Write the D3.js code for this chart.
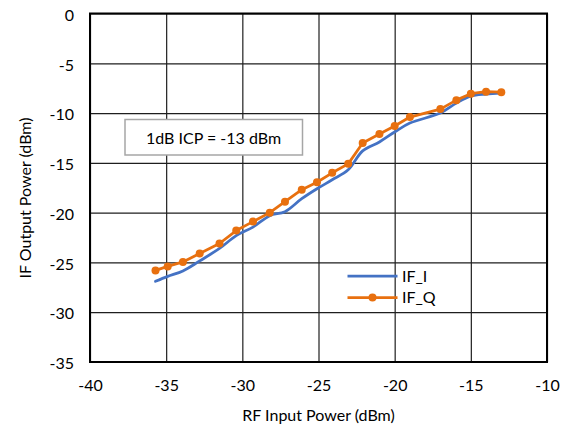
<!DOCTYPE html>
<html>
<head>
<meta charset="utf-8">
<script src="https://cdn.jsdelivr.net/npm/d3@7"></script>
<style>
  html, body { margin: 0; padding: 0; background: #fff; }
  svg { display: block; font-family: Lato, "Liberation Sans", Arial, sans-serif; }
</style>
</head>
<body>
<svg id="chart" width="565" height="426"></svg>
<script>
// RF input power sweep (dBm)
const inputPower = [-35.7, -34.9, -33.9, -32.8, -31.5, -30.4, -29.3, -28.2, -27.2, -26.1, -25.1,
                    -24.1, -23.05, -22.1, -21.0, -20.0, -19.0, -17.0, -15.95, -15.0, -14.0, -13.0];
// IF output power, I channel (dBm)
const ifI = [-26.9, -26.4, -25.85, -24.85, -23.6, -22.3, -21.45, -20.3, -19.9, -18.6, -17.6,
             -16.7, -15.7, -13.8, -12.9, -11.9, -11.0, -10.0, -9.0, -8.3, -8.1, -8.0];
// IF output power, Q channel (dBm)
const ifQ = [-25.8, -25.4, -24.95, -24.1, -23.1, -21.8, -20.9, -20.0, -18.9, -17.7, -16.95,
             -16.0, -15.1, -13.0, -12.1, -11.3, -10.4, -9.6, -8.7, -8.05, -7.85, -7.9];

const xTicks = [-40, -35, -30, -25, -20, -15, -10];
const yTicks = [0, -5, -10, -15, -20, -25, -30, -35];
const seriesNames = ["IF_I", "IF_Q"];
const icpLabel = "1dB ICP = -13 dBm";

const colorI = "#4472C4";
const colorQ = "#E8700F";
const fontSize = 16;
const fontFamily = "Lato, Liberation Sans, Arial, sans-serif";
const tickFmt = d => String(d);   // plain hyphen-minus

const plot = { left: 90, right: 547, top: 13.5, bottom: 362 };
const svg = d3.select("#chart");
svg.append("rect").attr("width", 565).attr("height", 426).attr("fill", "#fff");

const x = d3.scaleLinear().domain([-40, -10]).range([plot.left, plot.right]);
const y = d3.scaleLinear().domain([-35, 0]).range([plot.bottom, plot.top]);

// gridlines
const grid = svg.append("g");
grid.append("g")
  .attr("transform", `translate(0,${plot.bottom})`)
  .call(d3.axisBottom(x).tickValues(xTicks).tickSize(-(plot.bottom - plot.top)).tickFormat(""))
  .call(g => g.select(".domain").remove())
  .call(g => g.selectAll("line").attr("stroke", "#1e1e1e").attr("stroke-width", 1.2));
grid.append("g")
  .attr("transform", `translate(${plot.left},0)`)
  .call(d3.axisLeft(y).tickValues(yTicks).tickSize(-(plot.right - plot.left)).tickFormat(""))
  .call(g => g.select(".domain").remove())
  .call(g => g.selectAll("line").attr("stroke", "#1e1e1e").attr("stroke-width", 1.2));

// tick labels
svg.append("g")
  .attr("transform", `translate(0,${plot.bottom})`)
  .call(d3.axisBottom(x).tickValues(xTicks).tickSize(0).tickPadding(17.6).tickFormat(tickFmt))
  .call(g => g.select(".domain").remove())
  .call(g => g.selectAll("text").attr("font-size", fontSize).attr("fill", "#000")
    .attr("font-family", fontFamily));
svg.append("g")
  .attr("transform", `translate(${plot.left},0)`)
  .call(d3.axisLeft(y).tickValues(yTicks).tickSize(0).tickPadding(16).tickFormat(tickFmt))
  .call(g => g.select(".domain").remove())
  .call(g => g.selectAll("text").attr("font-size", fontSize).attr("fill", "#000").attr("dy", "0.42em")
    .attr("font-family", fontFamily));

// plot frame
svg.append("rect")
  .attr("x", plot.left).attr("y", plot.top)
  .attr("width", plot.right - plot.left).attr("height", plot.bottom - plot.top)
  .attr("fill", "none").attr("stroke", "#000").attr("stroke-width", 2);

// axis titles
svg.append("text")
  .attr("x", (plot.left + plot.right) / 2).attr("y", 421)
  .attr("text-anchor", "middle").attr("font-size", fontSize).attr("fill", "#000")
  .text("RF Input Power (dBm)");
svg.append("text")
  .attr("transform", "translate(30.5,198) rotate(-90)")
  .attr("text-anchor", "middle").attr("font-size", fontSize).attr("fill", "#000")
  .text("IF Output Power (dBm)");

// annotation box
const box = svg.append("g");
box.append("rect")
  .attr("x", 125).attr("y", 119.5).attr("width", 177.5).attr("height", 35.5)
  .attr("fill", "#fff").attr("stroke", "#a6a6a6").attr("stroke-width", 1.5);
box.append("text")
  .attr("x", 213.5).attr("y", 143.5).attr("text-anchor", "middle")
  .attr("font-size", fontSize).attr("fill", "#000")
  .text(icpLabel);

// series
const ptsI = inputPower.map((p, i) => [p, ifI[i]]);
const ptsQ = inputPower.map((p, i) => [p, ifQ[i]]);

svg.append("path")
  .datum(ptsI)
  .attr("fill", "none").attr("stroke", colorI).attr("stroke-width", 2.75)
  .attr("stroke-linejoin", "round").attr("stroke-linecap", "round")
  .attr("d", d3.line().x(d => x(d[0])).y(d => y(d[1])).curve(d3.curveCatmullRom.alpha(0.5)));

svg.append("path")
  .datum(ptsQ)
  .attr("fill", "none").attr("stroke", colorQ).attr("stroke-width", 2.75)
  .attr("stroke-linejoin", "round").attr("stroke-linecap", "round")
  .attr("d", d3.line().x(d => x(d[0])).y(d => y(d[1])));

svg.append("g").selectAll("circle")
  .data(ptsQ).join("circle")
  .attr("cx", d => x(d[0])).attr("cy", d => y(d[1])).attr("r", 4)
  .attr("fill", colorQ);

// legend
const legend = svg.append("g");
const legendRows = [
  { name: seriesNames[0], color: colorI, marker: false, y: 276 },
  { name: seriesNames[1], color: colorQ, marker: true, y: 297.5 }
];
legendRows.forEach(r => {
  legend.append("line")
    .attr("x1", 347.5).attr("x2", 397.5).attr("y1", r.y).attr("y2", r.y)
    .attr("stroke", r.color).attr("stroke-width", 2.75);
  if (r.marker) {
    legend.append("circle").attr("cx", 372.5).attr("cy", r.y).attr("r", 4).attr("fill", r.color);
  }
  legend.append("text")
    .attr("x", 402).attr("y", r.y + 5.5)
    .attr("font-size", fontSize).attr("fill", "#000")
    .text(r.name);
});
</script>
</body>
</html>
